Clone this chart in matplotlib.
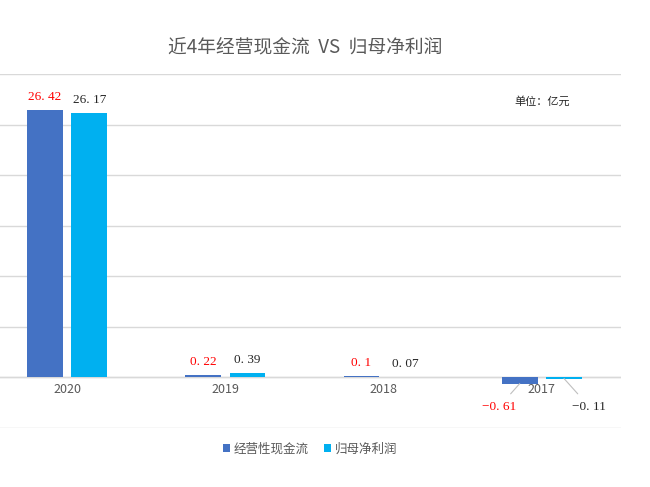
import numpy as np
import matplotlib.pyplot as plt

plt.rcParams['font.family'] = ['Noto Sans CJK SC', 'DejaVu Sans']

# 数据（亿元）
years = ['2020', '2019', '2018', '2017']
cash_flow = [26.42, 0.22, 0.1, -0.61]      # 经营性现金流
net_profit = [26.17, 0.39, 0.07, -0.11]    # 归母净利润
series_names = ['经营性现金流', '归母净利润']

c_blue = '#4472C4'
c_cyan = '#00B0F0'

fig = plt.figure(figsize=(6.5, 4.87), dpi=100)
ax = fig.add_axes([0, 1 - 428 / 487, 621 / 650, (428 - 74) / 487])

x = np.arange(len(years))
w = 0.225
off = 0.14
b1 = ax.bar(x - off, cash_flow, w, color=c_blue, label=series_names[0], zorder=3)
b2 = ax.bar(x + off, net_profit, w, color=c_cyan, label=series_names[1], zorder=3)

ax.set_xlim(-0.424, 3.5)
ax.set_ylim(-5, 30)
ax.set_yticks(np.arange(-5, 31, 5))
ax.grid(axis='y', color='#D9D9D9', linewidth=1, zorder=0)
ax.tick_params(left=False, bottom=False, labelleft=False, labelbottom=False)
for s in ax.spines.values():
    s.set_visible(False)
ax.axhline(0, color='#D9D9D9', linewidth=1, zorder=1)

# 类别标签放在零线下方
for i, y in enumerate(years):
    ax.text(i, -0.6, y, ha='center', va='top', fontsize=9, color='#595959')

num_font = dict(family=['Liberation Serif', 'DejaVu Serif'], fontsize=9.5)

def fmt(v):
    return str(v).replace('.', '. ').replace('-', '\u2212')

for i in range(len(years)):
    for vals, dx, col in ((cash_flow, -off, '#FF0000'), (net_profit, off, '#262626')):
        v = vals[i]
        if v >= 0:
            ax.text(i + dx, v + 0.7, fmt(v), ha='center', va='bottom', color=col, **num_font)
        else:
            lx = i + dx + (-0.13 if dx < 0 else 0.16)
            ly = -2.9
            ax.annotate(fmt(v), xy=(i + dx, v), xytext=(lx, ly),
                        ha='center', va='center', color=col,
                        arrowprops=dict(arrowstyle='-', color='#BFBFBF', lw=0.8,
                                        shrinkA=4, shrinkB=0), **num_font)

ax.text(3.0, 27.3, '单位：亿元', fontsize=8, color='#262626', ha='center', va='center')

fig.text(305 / 650, 1 - 47 / 487, '近4年经营现金流  VS  归母净利润', ha='center', va='center',
         fontsize=13.5, color='#595959')

fig.legend(handles=[b1, b2], labels=series_names, loc='center', bbox_to_anchor=(310 / 650, 1 - 449 / 487),
           ncol=2, frameon=False, fontsize=9, handlelength=0.6, handleheight=0.6,
           handletextpad=0.3, columnspacing=1.2, labelcolor='#595959')

fig.savefig('out.png', dpi=100)
